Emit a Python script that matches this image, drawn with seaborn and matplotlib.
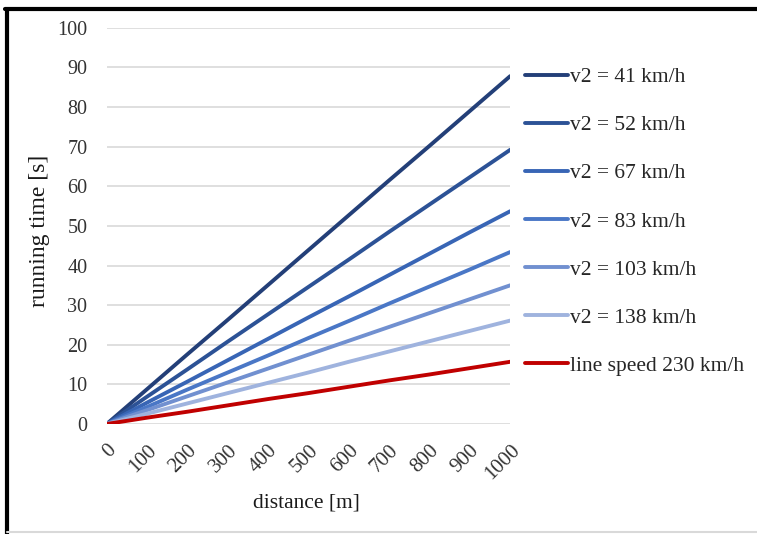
import matplotlib.pyplot as plt
import pandas as pd
import seaborn as sns
from matplotlib.lines import Line2D

# distance points [m]
distance = [0, 100, 200, 300, 400, 500, 600, 700, 800, 900, 1000]

# running time [s] per speed
t_41 = [0, 8.8, 17.6, 26.3, 35.1, 43.9, 52.7, 61.5, 70.2, 79.0, 87.8]
t_52 = [0, 6.9, 13.8, 20.8, 27.7, 34.6, 41.5, 48.5, 55.4, 62.3, 69.2]
t_67 = [0, 5.4, 10.7, 16.1, 21.5, 26.9, 32.2, 37.6, 43.0, 48.4, 53.7]
t_83 = [0, 4.3, 8.7, 13.0, 17.3, 21.7, 26.0, 30.4, 34.7, 39.0, 43.4]
t_103 = [0, 3.5, 7.0, 10.5, 14.0, 17.5, 21.0, 24.5, 28.0, 31.5, 35.0]
t_138 = [0, 2.6, 5.2, 7.8, 10.4, 13.0, 15.7, 18.3, 20.9, 23.5, 26.1]
t_230 = [0, 1.6, 3.1, 4.7, 6.3, 7.8, 9.4, 11.0, 12.5, 14.1, 15.7]

series_names = [
    "v2 = 41 km/h",
    "v2 = 52 km/h",
    "v2 = 67 km/h",
    "v2 = 83 km/h",
    "v2 = 103 km/h",
    "v2 = 138 km/h",
    "line speed 230 km/h",
]
series_values = [t_41, t_52, t_67, t_83, t_103, t_138, t_230]

x_ticks = [0, 100, 200, 300, 400, 500, 600, 700, 800, 900, 1000]
y_ticks = [0, 10, 20, 30, 40, 50, 60, 70, 80, 90, 100]

colors = ["#233f78", "#2c5296", "#3865b5", "#4a77c6", "#7190d0", "#9fb3de", "#c00000"]

rows = []
for name, vals in zip(series_names, series_values):
    for d, t in zip(distance, vals):
        rows.append({"distance": d, "time": t, "series": name})
df = pd.DataFrame(rows)

sns.set_style("white")
plt.rcParams["font.family"] = ["Liberation Serif", "DejaVu Serif"]

fig = plt.figure(figsize=(7.57, 5.34), dpi=100)
ax = fig.add_axes([0.141, 0.206, 0.533, 0.742])

sns.lineplot(
    data=df, x="distance", y="time", hue="series", hue_order=series_names,
    palette=colors, linewidth=2.8, ax=ax, legend=True,
)

ax.set_xlim(0, 1000)
ax.set_ylim(0, 100)
ax.set_xticks(x_ticks)
ax.set_yticks(y_ticks)
ax.set_xticklabels([str(v) for v in x_ticks], rotation=45, ha="right",
                   rotation_mode="anchor", fontsize=15, color="#333333")
ax.set_yticklabels([str(v) for v in y_ticks], fontsize=14.5, color="#333333")
ax.tick_params(axis="y", length=0, pad=14)
ax.tick_params(axis="x", length=0, pad=12)

ax.grid(axis="y", color="#d9d9d9", linewidth=1.2)
ax.set_axisbelow(True)
for side in ["top", "right", "left", "bottom"]:
    ax.spines[side].set_visible(False)

ax.set_xlabel("distance [m]", fontsize=15.5, color="#1a1a1a")
ax.set_ylabel("running time [s]", fontsize=17, color="#1a1a1a")
ax.xaxis.set_label_coords(0.496, -0.175)
ax.yaxis.set_label_coords(-0.14, 0.487)

handles, labels = ax.get_legend_handles_labels()
ax.legend(
    handles, labels, loc="upper left", bbox_to_anchor=(1.015, 0.922),
    frameon=False, fontsize=15.5, handlelength=2.0, handletextpad=0.1,
    labelspacing=1.3, borderaxespad=0,
)

# frame around the picture
fig.add_artist(Line2D([0.007, 1.0], [0.984, 0.984], color="black", linewidth=3, transform=fig.transFigure))
fig.add_artist(Line2D([0.009, 0.009], [0.0, 0.984], color="black", linewidth=3, transform=fig.transFigure))
fig.add_artist(Line2D([0.009, 1.0], [0.004, 0.004], color="#d9d9d9", linewidth=1.5, transform=fig.transFigure))

fig.savefig("out.png", dpi=100)
